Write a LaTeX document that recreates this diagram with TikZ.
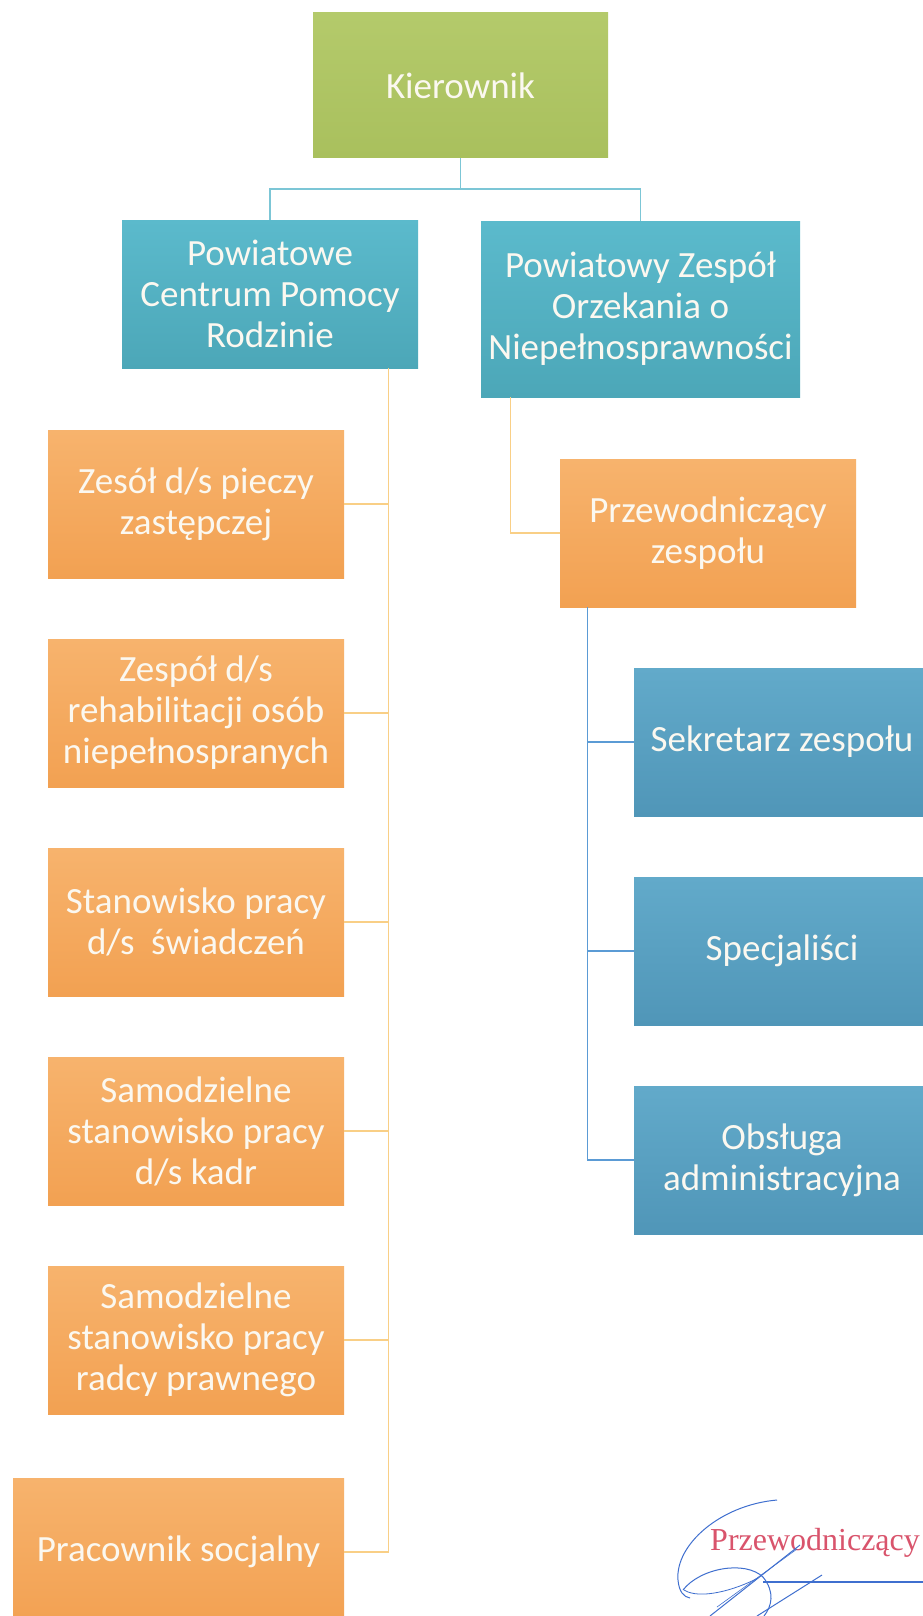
\documentclass[tikz,border=0pt]{standalone}
\usepackage{fontspec}
\setmainfont{Carlito}
\newfontfamily\stampfont{Liberation Serif}
\usetikzlibrary{positioning,shadings}
\definecolor{kiergreen}{HTML}{A9C05D}
\definecolor{kiergreenlt}{HTML}{B4CA6B}
\definecolor{tealbox}{HTML}{5BBACC}
\definecolor{tealboxdk}{HTML}{4CA7B8}
\definecolor{orangebox}{HTML}{F7B36D}
\definecolor{orangeboxdk}{HTML}{F2A152}
\definecolor{bluebox}{HTML}{62AACA}
\definecolor{blueboxdk}{HTML}{5096B8}
\definecolor{teallink}{HTML}{7CC6D6}
\definecolor{orangelink}{HTML}{F9CF86}
\definecolor{bluelink}{HTML}{5B9BD5}
\definecolor{stampred}{HTML}{D9546C}
\definecolor{sigblue}{HTML}{3F6FCF}
\definecolor{boxtext}{HTML}{FBF8F0}
\begin{document}
\begin{tikzpicture}[x=1pt,y=-1pt,
    box/.style={minimum width=296pt,minimum height=148pt,inner sep=0pt,align=center,
      text=boxtext,font=\fontsize{37}{41}\selectfont},
    greenbox/.style={box,top color=kiergreenlt,bottom color=kiergreen},
    tealnode/.style={box,top color=tealbox,bottom color=tealboxdk},
    orangenode/.style={box,top color=orangebox,bottom color=orangeboxdk},
    bluenode/.style={box,top color=bluebox,bottom color=blueboxdk},
    teal line/.style={draw=teallink,line width=1.6pt},
    orange line/.style={draw=orangelink,line width=1.3pt},
    blue line/.style={draw=bluelink,line width=1.3pt}]
    \clip (0,0) rectangle (923,1616);
    \fill[white] (0,0) rectangle (923,1616);
    \node[greenbox,minimum width=295pt,minimum height=145pt] (kier) at (460.5,85.5) {Kierownik};
    \node[tealnode] (pcpr) at (270,294) {Powiatowe\\Centrum Pomocy\\Rodzinie};
    \node[tealnode,minimum width=319pt,minimum height=176pt] (pzon) at (640.5,309) {Powiatowy Zespół\\Orzekania o\\Niepełnosprawności};
    \draw[teal line] (kier.south) -- ++(0,31) -| (pcpr.north);
    \draw[teal line] (kier.south) -- ++(0,31) -| (pzon.north);
    \node[orangenode] (zesol) at (196,504) {Zesół d/s pieczy\\zastępczej};
    \node[orangenode] (rehab) at (196,713) {Zespół d/s\\rehabilitacji osób\\niepełnospranych};
    \node[orangenode] (swiad) at (196,922) {Stanowisko pracy\\d/s~~świadczeń};
    \node[orangenode] (kadr) at (196,1131) {Samodzielne\\stanowisko pracy\\d/s kadr};
    \node[orangenode] (radca) at (196,1340) {Samodzielne\\stanowisko pracy\\radcy prawnego};
    \node[orangenode,minimum width=331pt] (socj) at (178.5,1552) {Pracownik socjalny};
    \coordinate (pcprspine) at ([xshift=-30pt]pcpr.south east);
    \draw[orange line] (pcprspine) |- (socj.east);
    \foreach \n in {zesol,rehab,swiad,kadr,radca}
      \draw[orange line] (\n.east) -- (\n.east -| pcprspine);
    \node[orangenode] (przew) at (708,533) {Przewodniczący\\zespołu};
    \draw[orange line] ([xshift=30pt]pzon.south west) |- (przew.west);
    \node[bluenode] (sekr) at (782,742) {Sekretarz zespołu};
    \node[bluenode] (spec) at (782,951) {Specjaliści};
    \node[bluenode] (obsl) at (782,1160) {Obsługa\\administracyjna};
    \coordinate (przewspine) at ([xshift=28pt]przew.south west);
    \draw[blue line] (przewspine) |- (obsl.west);
    \foreach \n in {sekr,spec}
      \draw[blue line] (\n.west) -- (\n.west -| przewspine);
    \node[anchor=base west,inner sep=0pt,text=stampred,font=\stampfont\fontsize{32}{32}\selectfont] (stamp) at (710,1550) {Przewodniczący};
    \draw[sigblue,line width=1pt] (777,1500) .. controls (720,1505) and (675,1545) .. (678,1580)
      .. controls (679,1592) and (684,1597) .. (690,1598);
    \draw[sigblue,line width=1pt] (683,1590) .. controls (700,1568) and (745,1560) .. (763,1577)
      .. controls (775,1592) and (772,1606) .. (764,1616);
    \draw[sigblue,line width=0.8pt] (684,1590) .. controls (700,1600) and (735,1590) .. (758,1578);
    \draw[sigblue,line width=1pt] (800,1545) -- (710,1616);
    \draw[sigblue,line width=0.6pt] (797,1549) -- (717,1607);
    \draw[sigblue,line width=1pt] (822,1575) -- (757,1616);
    \draw[sigblue,line width=1.2pt] (763,1582) -- (923,1582);
\end{tikzpicture}
\end{document}
